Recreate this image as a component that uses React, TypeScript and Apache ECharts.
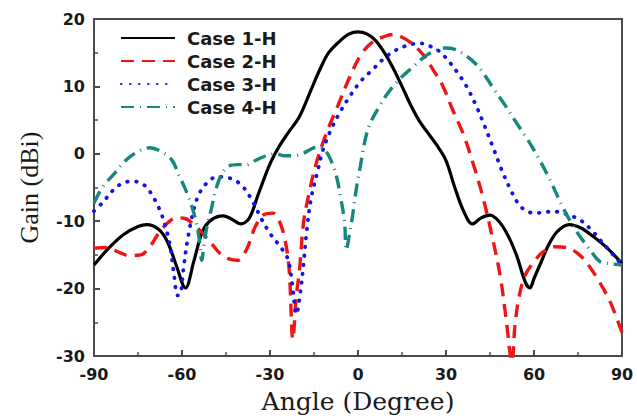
import React, { useEffect, useRef } from "react";
import * as echarts from "echarts";

const seriesNames = ["Case 1-H", "Case 2-H", "Case 3-H", "Case 4-H"];
const xTicks = [-90, -60, -30, 0, 30, 60, 90];
const yTicks = [-30, -20, -10, 0, 10, 20];

const case1: [number, number][] = [
  [-90, -16.5], [-85, -14], [-80, -12], [-75, -10.8], [-72, -10.5], [-68, -11.2], [-65, -13],
  [-62, -16.5], [-58.8, -19.9], [-56, -16], [-53, -11.5], [-50, -9.8], [-46, -9.2], [-43, -9.7],
  [-40, -10.4], [-37, -9.5], [-34, -6], [-30, -1.5], [-27, 1], [-24, 3], [-20, 5.5], [-16, 9.5],
  [-13, 12.5], [-10, 15], [-6, 16.8], [-3, 17.8], [0, 18.1], [3, 17.8], [6, 16.8], [9, 15],
  [12, 12.7], [15, 10], [18, 7.2], [21, 4.8], [24, 3], [27, 1.2], [30, -1], [33, -5], [36, -8.5],
  [39, -10.4], [42, -9.5], [45, -9.1], [48, -10], [51, -12], [54, -15], [57, -19], [58.6, -19.9],
  [60, -18.5], [62, -16.5], [65, -13.5], [68, -11.5], [72, -10.5], [76, -11], [80, -12.2],
  [85, -14], [90, -16.3],
];

const case2: [number, number][] = [
  [-90, -14], [-86, -13.9], [-82, -14.5], [-78, -15.1], [-74, -15], [-71, -13.8], [-68, -11.8],
  [-65, -10.3], [-62, -9.5], [-59, -9.6], [-56, -10.5], [-53, -11.8], [-50, -13.3], [-47, -14.8],
  [-44, -15.6], [-41, -15.8], [-38, -14.2], [-35, -10.8], [-32, -9], [-29, -8.8], [-27, -9.8],
  [-25, -12.5], [-23.5, -17], [-22.2, -27.5], [-21, -21], [-20, -17.5], [-18.5, -10],
  [-16.5, -5.5], [-14.5, -1.8], [-11, 2.8], [-7, 7], [-3, 11.2], [1, 14.7], [5, 16.6], [9, 17.4],
  [12, 17.7], [15, 17.3], [18, 16.5], [22, 14.8], [26, 12.2], [29, 10], [32, 6.8], [36, 2.8],
  [39.5, -1.8], [42.5, -6.3], [45.5, -11.8], [48.5, -18.2], [50.5, -24.5], [52.5, -31],
  [53.5, -25.5], [55, -21], [57, -18], [60, -16], [63, -14.6], [67, -13.8], [71, -13.9],
  [75, -14.8], [78, -16.2], [82, -18.8], [86, -22], [90, -26.5],
];

const case3: [number, number][] = [
  [-90, -8.5], [-87, -7.2], [-83.5, -5.4], [-80, -4.3], [-76.5, -4.1], [-73, -4.6], [-70.5, -5.9],
  [-67.5, -8.4], [-65.5, -11], [-64, -13.8], [-62.7, -18], [-61.5, -21], [-60.5, -20.8],
  [-59.5, -17], [-58, -12.5], [-56, -8.3], [-54, -5.8], [-51, -4.1], [-48, -3.4], [-45, -3.5],
  [-42, -3.9], [-39, -5], [-36, -7], [-33, -9.6], [-30, -11.8], [-27, -13.5], [-24, -15.5],
  [-22.5, -19], [-21, -23.8], [-19.5, -20], [-18.5, -16], [-17.5, -11.5], [-16, -6.6],
  [-14, -3], [-12, 0.5], [-9.5, 3.3], [-6.5, 5.9], [-3, 8.4], [1, 10.8], [5, 12.5], [9, 14.2],
  [13, 15.4], [17, 16.1], [21, 16.4], [25, 15.9], [28, 15.1], [31, 13.7], [34, 12], [37, 10],
  [40, 7.4], [43, 4.3], [46, 1], [49, -2.4], [52, -5.3], [55, -7.6], [58, -8.6], [61, -8.8],
  [64, -8.6], [68, -8.6], [72, -9.1], [76, -9.9], [80, -11.5], [83, -13], [87, -15], [90, -16.5],
];

const case4: [number, number][] = [
  [-90, -7.3], [-87, -4.9], [-83, -2.9], [-79.5, -1.1], [-75.5, 0.2], [-71, 0.9], [-67, 0.3],
  [-63.5, -0.9], [-61, -3.2], [-58.5, -5.6], [-56.5, -8], [-55, -10.5], [-54, -13], [-53.3, -15.8],
  [-52.5, -13.5], [-51.5, -10.8], [-50, -8.2], [-48.5, -5.4], [-46.5, -3], [-44, -1.8],
  [-41, -1.6], [-38, -1.6], [-35, -1], [-32, -0.4], [-28, 0], [-25, -0.3], [-22, -0.3], [-19, 0],
  [-16, 0.7], [-13.5, 1.1], [-11, 0.4], [-9, -1.2], [-7.3, -3.4], [-5.8, -6.8], [-4.6, -10],
  [-4, -14.3], [-3, -12.2], [-1.8, -9], [-0.5, -5], [0.8, -1.8], [2.4, 2], [4, 4.4], [7, 6.8],
  [10, 8.9], [14, 11], [18.5, 12.8], [23, 14.5], [27, 15.4], [30, 15.7], [33, 15.5], [36, 14.8],
  [40, 13.4], [43, 11.8], [46, 9.8], [50, 7.3], [54, 4.6], [58, 2], [62, -1], [65.5, -3.9],
  [70, -8.1], [74.5, -11.5], [79, -14.2], [82.5, -16], [86, -16.3], [90, -16.5],
];

const seriesData = [case1, case2, case3, case4];
const colors = ["#000000", "#f01414", "#1414e6", "#15877d"];
const dashes: any[] = ["solid", [13, 8], [0.5, 8.5], [13, 6, 1, 6]];
const widths = [3.2, 3.4, 3.8, 3.4];

export default function App() {
  const ref = useRef<HTMLDivElement>(null);
  useEffect(() => {
    if (!ref.current) return;
    const chart = echarts.init(ref.current, undefined, { renderer: "svg" });
    const tickFont = {
      fontFamily: "DejaVu Sans",
      fontWeight: "bold" as const,
      fontSize: 16,
      color: "#1a1a1a",
    };
    const axisLine = { show: true, onZero: false, lineStyle: { color: "#4a4a4a", width: 2 } };
    chart.setOption({
      animation: false,
      backgroundColor: "#ffffff",
      grid: {
        left: 94,
        right: 15,
        top: 19,
        bottom: 63,
        show: true,
        borderColor: "#4a4a4a",
        borderWidth: 2,
        containLabel: false,
      },
      legend: {
        show: true,
        orient: "vertical",
        left: 120,
        top: 29,
        padding: 0,
        itemWidth: 54,
        itemHeight: 14,
        itemGap: 5,
        data: seriesNames,
        itemStyle: { opacity: 0 },
        textStyle: {
          fontFamily: "DejaVu Sans",
          fontWeight: "bold",
          fontSize: 18,
          color: "#1a1a1a",
          padding: [0, 0, 0, 7],
        },
      },
      xAxis: {
        type: "value",
        min: -90,
        max: 90,
        interval: 30,
        name: "Angle (Degree)",
        nameLocation: "middle",
        nameGap: 33,
        nameTextStyle: { fontFamily: "DejaVu Serif", fontSize: 25, color: "#1a1a1a" },
        axisLine,
        axisTick: { show: true, inside: true, length: 6, lineStyle: { color: "#4a4a4a", width: 2 } },
        minorTick: { show: true, splitNumber: 2, length: 4, lineStyle: { color: "#4a4a4a", width: 1.5 } },
        splitLine: { show: false },
        axisLabel: {
          ...tickFont,
          margin: 10,
          formatter: (v: number) => (xTicks.includes(v) ? String(v) : ""),
        },
      },
      yAxis: {
        type: "value",
        min: -30,
        max: 20,
        interval: 10,
        name: "Gain (dBi)",
        nameLocation: "middle",
        nameGap: 52,
        nameTextStyle: {
          fontFamily: "Liberation Serif",
          fontSize: 26,
          color: "#1a1a1a",
        },
        axisLine,
        axisTick: { show: true, inside: true, length: 6, lineStyle: { color: "#4a4a4a", width: 2 } },
        minorTick: { show: true, splitNumber: 2, length: 4, lineStyle: { color: "#4a4a4a", width: 1.5 } },
        splitLine: { show: false },
        axisLabel: {
          ...tickFont,
          margin: 9,
          formatter: (v: number) => (yTicks.includes(v) ? String(v) : ""),
        },
      },
      series: seriesData.map((d, i) => ({
        name: seriesNames[i],
        type: "line",
        data: d,
        smooth: 0.35,
        symbol: "none",
        clip: true,
        color: colors[i],
        lineStyle: {
          color: colors[i],
          width: widths[i],
          type: dashes[i],
          cap: i === 2 ? "round" : "butt",
        },
      })),
    });
    return () => chart.dispose();
  }, []);
  return (
    <div
      ref={ref}
      style={{ position: "fixed", left: 0, top: 0, width: 637, height: 419 }}
    />
  );
}
